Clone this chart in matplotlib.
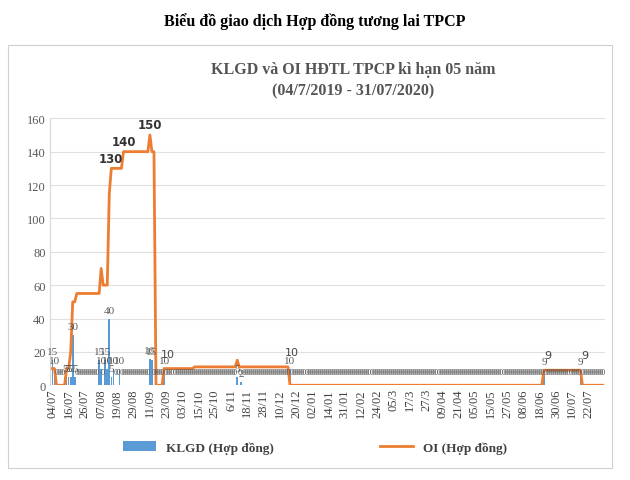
import matplotlib
matplotlib.use("Agg")
import matplotlib.pyplot as plt
from matplotlib.patches import Rectangle
import numpy as np

tick_labels = ["04/07","16/07","26/07","07/08","19/08","29/08","11/09","23/09","03/10","15/10",
               "25/10","6/11","18/11","28/11","10/12","20/12","02/01","14/01","31/01","12/02",
               "24/02","05/3","17/3","27/3","09/04","21/04","05/05","15/05","27/05","08/06",
               "18/06","30/06","10/07","22/07"]
# OI (open interest) as runs: (value, number of sessions)
oi_runs = [(10,2),(0,5),(10,2),(20,1),(50,2),(55,12),(70,1),(60,3),(115,1),(130,6),(140,13),
           (150,1),(140,2),(0,4),(10,15),(11,21),(15,1),(11,25),(0,125),(9,19),(0,11)]
# KLGD non-zero sessions: index -> volume
klgd_nonzero = {0:15,1:10,6:5,7:5,8:5,9:5,10:30,11:5,23:15,24:10,26:15,27:10,28:40,29:5,30:10,
                33:10,48:16,49:15,55:10,91:5,93:2,117:10,242:9,260:9}
oi_label_idx = {29:"130",35:"140",48:"150"}
oi_small_label_idx = {55:"10",116:"10",242:"9",260:"9"}

oi = np.concatenate([[v]*n for v, n in oi_runs])
N = len(oi)
klgd = np.zeros(N)
for i, v in klgd_nonzero.items():
    klgd[i] = v
x = np.arange(N)

fig = plt.figure(figsize=(6.3, 4.81), dpi=100)
fig.patches.append(Rectangle((0.013, 0.025), 0.958, 0.88, transform=fig.transFigure,
                             fill=False, edgecolor="#d0d0d0", lw=0.8))
fig.text(0.5, 0.955, "Biểu đồ giao dịch Hợp đồng tương lai TPCP", ha="center", va="center",
         fontsize=11.5, fontweight="bold", family="Liberation Serif")
fig.text(0.56, 0.855, "KLGD và OI HĐTL TPCP kì hạn 05 năm", ha="center", va="center",
         fontsize=11.5, fontweight="bold", family="Liberation Serif", color="#555555")
fig.text(0.56, 0.81, "(04/7/2019 - 31/07/2020)", ha="center", va="center",
         fontsize=11.5, fontweight="bold", family="Liberation Serif", color="#555555")

ax = fig.add_axes([0.08, 0.197, 0.88, 0.555])
ax.bar(x, klgd, width=0.8, color="#5b9bd5", label="KLGD (Hợp đồng)")
ax.plot(x, oi, color="#ed7d31", lw=2, label="OI (Hợp đồng)")
for i in range(N):
    ax.text(i, klgd[i] + 5 if klgd[i] > 0 else 8, f"{int(klgd[i])}", ha="center", va="center",
            fontsize=6 if klgd[i] == 0 else 8, color="#595959", family="Liberation Serif")
for i, t in oi_label_idx.items():
    ax.text(i, oi[i] + 6, t, ha="center", va="center", fontsize=8.5, fontweight="bold", color="#333333")
for i, t in oi_small_label_idx.items():
    ax.text(i + 2, oi[i] + 9, t, ha="center", va="center", fontsize=8, color="#444444")

ax.set_ylim(0, 160)
ax.set_yticks(range(0, 161, 20))
ax.set_xlim(-1, N)
ax.set_xticks(np.arange(len(tick_labels)) * 8)
ax.set_xticklabels(tick_labels, rotation=90, fontsize=9, family="Liberation Serif", color="#404040")
ax.tick_params(axis="y", labelsize=9, colors="#595959", length=0)
ax.tick_params(axis="x", length=0, pad=2)
for lab in ax.get_yticklabels():
    lab.set_family("Liberation Serif")
ax.grid(axis="y", color="#e0e0e0", lw=0.8)
ax.set_axisbelow(True)
for s in ["top", "right", "bottom"]:
    ax.spines[s].set_visible(False)
ax.spines["left"].set_color("#d9d9d9")

h, l = ax.get_legend_handles_labels()
order = [l.index("KLGD (Hợp đồng)"), l.index("OI (Hợp đồng)")]
leg = fig.legend([h[k] for k in order], [l[k] for k in order], loc="lower center",
                 bbox_to_anchor=(0.5, 0.03), ncol=2, frameon=False,
                 prop={"family": "Liberation Serif", "weight": "bold", "size": 9.5},
                 columnspacing=8, handlelength=2.5)
for t in leg.get_texts():
    t.set_color("#404040")
fig.savefig("out.png", dpi=100)
